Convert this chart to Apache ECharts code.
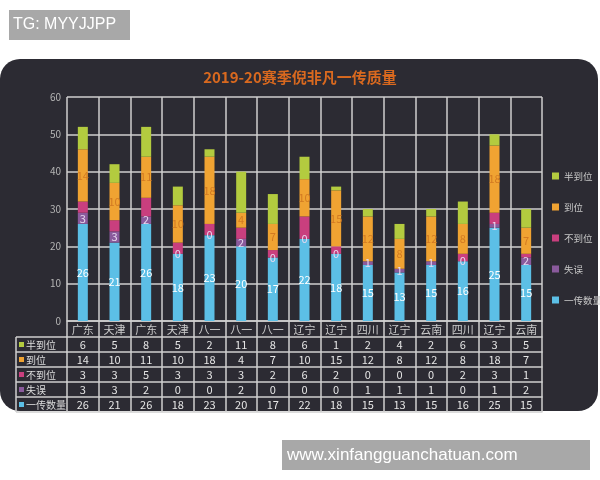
<!DOCTYPE html>
<html>
<head>
<meta charset="utf-8">
<script src="https://cdn.jsdelivr.net/npm/echarts@6/dist/echarts.min.js"></script>
<style>html,body{margin:0;padding:0;background:#fff;}#c{width:600px;height:480px;}</style>
</head>
<body>
<div id="c"></div>
<script>
var categories = ['广东','天津','广东','天津','八一','八一','八一','辽宁','辽宁','四川','辽宁','云南','四川','辽宁','云南'];
var banDaoWei = [6,5,8,5,2,11,8,6,1,2,4,2,6,3,5];
var daoWei = [14,10,11,10,18,4,7,10,15,12,8,12,8,18,7];
var buDaoWei = [3,3,5,3,3,3,2,6,2,0,0,0,2,3,1];
var shiWu = [3,3,2,0,0,2,0,0,0,1,1,1,0,1,2];
var yiChuan = [26,21,26,18,23,20,17,22,18,15,13,15,16,25,15];
var yTicks = [0,10,20,30,40,50,60];

var names = ['半到位','到位','不到位','失误','一传数量'];
var colors = {'半到位':'#b3cb3f','到位':'#f0a332','不到位':'#c93f7e','失误':'#8a5a9c','一传数量':'#5cbfe6'};
var tableRows = [banDaoWei, daoWei, buDaoWei, shiWu, yiChuan];

var FONT = '"Noto Sans CJK SC", "Noto Sans", sans-serif';
var LINE = '#cfcfcf';
var gridLeft = 67, gridRight = 58, gridTop = 97, gridBottom = 159;
var headH = 16, rowH = 15;
var axisY = 480 - gridBottom;

var xAxes = [{
  type:'category', data: categories, gridIndex:0, position:'bottom', offset:0,
  axisLine:{show:true, lineStyle:{color:LINE, width:1.5}},
  axisTick:{show:true, length:headH, interval:0, lineStyle:{color:LINE, width:1.5}},
  axisLabel:{color:'#cccccc', fontSize:11, margin:3, interval:0, fontFamily:FONT},
  splitLine:{show:true, interval:0, lineStyle:{color:LINE, width:1.5}}
}];
tableRows.forEach(function(arr, k){
  xAxes.push({
    type:'category', data: categories, gridIndex:0, position:'bottom', offset: headH + rowH*k,
    axisLine:{show:true, lineStyle:{color:LINE, width:1.5}},
    axisTick:{show:true, length:rowH, interval:0, lineStyle:{color:LINE, width:1.5}},
    axisLabel:{color:'#e6e6e6', fontSize:11, margin:2, interval:0, fontFamily:FONT,
      formatter:function(v, i){ return String(arr[i]); }},
    splitLine:{show:false}
  });
});
xAxes.push({
  type:'category', data: categories, gridIndex:0, position:'bottom', offset: headH + rowH*tableRows.length,
  axisLine:{show:true, lineStyle:{color:LINE, width:1.5}},
  axisTick:{show:false}, axisLabel:{show:false}, splitLine:{show:false}
});

function mkSeries(name, data, labelColor){
  return {
    name:name, type:'bar', stack:'total', data:data, barWidth:10, xAxisIndex:0,
    itemStyle:{color:colors[name]},
    label:{show: !!labelColor, position:'inside', color: labelColor || '#fff', fontSize:11, fontFamily:FONT}
  };
}

var tableTop = axisY + headH;
var graphics = [
  {type:'rect', z:-10, shape:{x:0, y:59, width:598, height:352, r:20}, style:{fill:'#2c2b33'}},
  {type:'rect', z:-10, shape:{x:9, y:10, width:121, height:30}, style:{fill:'#a8a8a8'}},
  {type:'text', z:10, style:{x:13, y:25, text:'TG: MYYJJPP', fill:'#ffffff', font:'16px "Liberation Sans", Arial, sans-serif', textVerticalAlign:'middle'}},
  {type:'rect', z:-10, shape:{x:282, y:440, width:308, height:30}, style:{fill:'#a8a8a8'}},
  {type:'text', z:10, style:{x:287, y:455, text:'www.xinfangguanchatuan.com', fill:'#ffffff', font:'17px "Liberation Sans", Arial, sans-serif', textVerticalAlign:'middle'}},
  {type:'line', shape:{x1:16, y1:tableTop, x2:16, y2:tableTop + rowH*names.length}, style:{stroke:LINE, lineWidth:1.5}}
];
names.forEach(function(n, k){
  var y = tableTop + rowH*k;
  graphics.push({type:'line', shape:{x1:16, y1:y, x2:gridLeft, y2:y}, style:{stroke:LINE, lineWidth:1.5}});
  graphics.push({type:'rect', shape:{x:19, y:y+5, width:5, height:5}, style:{fill:colors[n]}});
  graphics.push({type:'text', style:{x:26, y:y+rowH/2+0.5, text:n, fill:'#dddddd', font:'10px ' + FONT, textVerticalAlign:'middle'}});
});
graphics.push({type:'line', shape:{x1:16, y1:tableTop + rowH*names.length, x2:gridLeft, y2:tableTop + rowH*names.length}, style:{stroke:LINE, lineWidth:1.5}});

var chart = echarts.init(document.getElementById('c'));
chart.setOption({
  backgroundColor:'#ffffff',
  animation:false,
  textStyle:{fontFamily:FONT},
  title:{text:'2019-20赛季倪非凡一传质量', left:'center', top:65,
    textStyle:{color:'#d9691f', fontSize:15, fontWeight:'bold', fontFamily:FONT}},
  legend:{
    data:names, orient:'vertical', left:547, top:164, itemWidth:7, itemHeight:7, itemGap:17,
    icon:'rect', textStyle:{color:'#c8c8c8', fontSize:9.5, lineHeight:14, fontFamily:FONT}
  },
  grid:{left:gridLeft, right:gridRight, top:gridTop, bottom:gridBottom, containLabel:false},
  xAxis: xAxes,
  yAxis:{type:'value', min:yTicks[0], max:yTicks[yTicks.length-1], interval:10,
    axisLine:{show:false}, axisTick:{show:false},
    axisLabel:{color:'#b4b4b4', fontSize:10, margin:6, fontFamily:FONT},
    splitLine:{lineStyle:{color:LINE, width:1.5}}},
  series:[
    mkSeries('一传数量', yiChuan, '#ffffff'),
    mkSeries('失误', shiWu, '#e8d8f0'),
    mkSeries('不到位', buDaoWei, null),
    mkSeries('到位', daoWei, '#d27a22'),
    mkSeries('半到位', banDaoWei, null)
  ],
  graphic: graphics
});
</script>
</body>
</html>
